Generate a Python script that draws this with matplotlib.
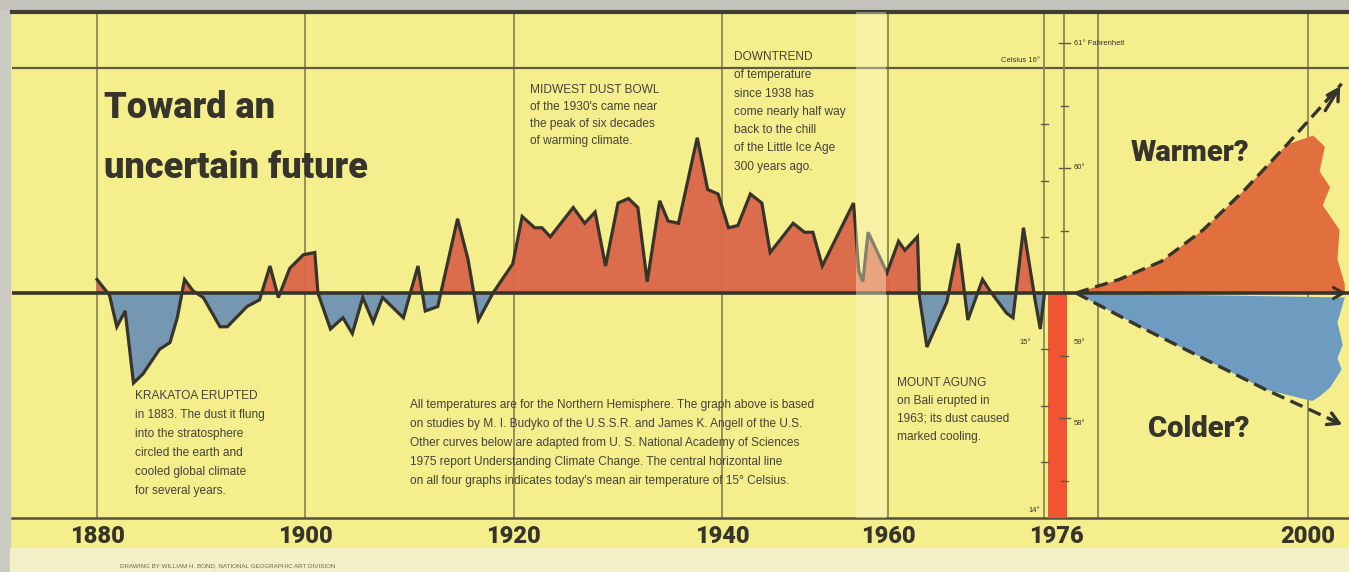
import numpy as np
import matplotlib.pyplot as plt
from matplotlib.patches import Rectangle

# Northern hemisphere temperature, departure (deg C) from today's 15 C mean
years = [1880.0, 1881.2, 1881.9, 1882.7, 1883.5, 1884.4, 1886.0, 1887.0, 1887.7, 1888.4,
         1889.2, 1890.2, 1891.8, 1892.5, 1894.4, 1895.6, 1896.6, 1897.4, 1898.5, 1899.8,
         1900.9, 1901.2, 1902.4, 1903.6, 1904.5, 1905.5, 1906.5, 1907.4, 1909.4, 1910.8,
         1911.5, 1912.7, 1914.6, 1915.6, 1916.6, 1918.0, 1919.9, 1920.8, 1922.0, 1922.7,
         1923.5, 1925.7, 1926.8, 1927.8, 1928.8, 1930.0, 1931.0, 1931.9, 1932.8, 1934.0,
         1934.8, 1935.8, 1937.6, 1938.6, 1939.6, 1940.6, 1941.5, 1942.7, 1943.8, 1944.6,
         1946.8, 1947.9, 1948.7, 1949.6, 1952.6, 1953.1, 1957.6, 1958.1, 1959.9, 1961.0,
         1961.6, 1962.8, 1963.0, 1963.7, 1965.6, 1966.7, 1967.6, 1969.0, 1969.7, 1971.3,
         1971.9, 1972.9, 1974.0, 1974.5, 1974.9]
temps = [0.06, -0.01, -0.15, -0.08, -0.40, -0.36, -0.25, -0.22, -0.11, 0.06,
         0.01, -0.02, -0.15, -0.15, -0.06, -0.03, 0.12, -0.02, 0.11, 0.17,
         0.18, 0.00, -0.16, -0.11, -0.18, -0.02, -0.13, -0.02, -0.11, 0.12,
         -0.08, -0.06, 0.33, 0.15, -0.12, 0.00, 0.13, 0.34, 0.29, 0.29,
         0.25, 0.38, 0.31, 0.36, 0.12, 0.40, 0.42, 0.38, 0.05, 0.41,
         0.32, 0.31, 0.69, 0.46, 0.44, 0.29, 0.30, 0.44, 0.40, 0.18,
         0.31, 0.27, 0.27, 0.12, 0.40, 0.10, 0.05, 0.27, 0.09, 0.23,
         0.19, 0.25, -0.02, -0.24, -0.04, 0.22, -0.12, 0.06, 0.01, -0.09,
         -0.11, 0.29, -0.03, -0.16, 0.00]

# the two possible futures
warm_years = [1977.9, 1982, 1986, 1990, 1994, 1998, 2003.2]
warm_vals = [0.0, 0.06, 0.14, 0.28, 0.46, 0.66, 0.93]
cold_years = [1977.9, 1984, 1990, 1996, 2003.5]
cold_vals = [0.0, -0.15, -0.29, -0.43, -0.59]

# ragged right edge of the shaded futures
warm_edge_years = [2000.5, 2001.6, 2001.1, 2002.1, 2001.4, 2003.0, 2002.8, 2003.5, 2003.5]
warm_edge_vals = [0.70, 0.65, 0.54, 0.47, 0.39, 0.28, 0.15, 0.04, 0.0]
cold_edge_years = [2003.5, 2002.8, 2003.3, 2002.8, 2003.2, 2002.1, 2001.1, 2000.4]
cold_edge_vals = [-0.02, -0.13, -0.23, -0.29, -0.34, -0.42, -0.46, -0.48]

# present day thermometer bar (1976, down to 14 C)
bar_year = 1976.1
bar_depth = -1.0

grid_years = [1880, 1900, 1920, 1940, 1960, 1980, 2000]
tick_years = [1880, 1900, 1920, 1940, 1960, 1976, 2000]
tick_labels = ['1880', '1900', '1920', '1940', '1960', '1976', '2000']

BG = '#F4EE8C'
RED = '#DB6649'
BLUE = '#6F93B4'
WARM = '#E2703F'
COLD = '#6E9BC0'
BAR = '#EF5433'
INK = '#37352B'
GRID = '#8C8A55'
HEAVY = ['Roboto', 'DejaVu Sans']
SMALL = ['Liberation Sans', 'DejaVu Sans']

# the page gutter swallows a few years around 1955
YEAR_NODES = [1860, 1953.1, 1957.5, 2020]
PX_NODES = [-111.4, 858.7, 861.75, 1518.0]


def fwd(x):
    return np.interp(x, YEAR_NODES, PX_NODES)


def inv(p):
    return np.interp(p, PX_NODES, YEAR_NODES)


fig = plt.figure(figsize=(13.49, 5.72), dpi=100, facecolor=BG)
W, H = 1349, 572


def fx(x):
    return x / W


def fy(y):
    return 1 - y / H


fig.add_artist(Rectangle((0, 0), fx(10), 1, transform=fig.transFigure, color='#CBCBC3', zorder=0))
fig.add_artist(Rectangle((0, fy(9)), 1, 9 / H, transform=fig.transFigure, color='#C4C4BC', zorder=0))
fig.add_artist(Rectangle((fx(10), 0), 1, 24 / H, transform=fig.transFigure, color='#F3F0C8', zorder=0))

ax = fig.add_axes([fx(12), fy(518), fx(1337), 506 / H])
ax.set_facecolor(BG)
ax.set_xscale('function', functions=(fwd, inv))
ax.set_xlim(1871.84, 2003.9)
ax.set_ylim(-1.0, 1.249)

for s in ['left', 'right']:
    ax.spines[s].set_visible(False)
ax.spines['top'].set_color('#3E3D36')
ax.spines['top'].set_linewidth(3)
ax.spines['bottom'].set_color('#55533F')
ax.spines['bottom'].set_linewidth(1.8)

for g in grid_years:
    ax.axvline(g, color=GRID, lw=1.3, zorder=1)
ax.axhline(1.0, color='#5E5C45', lw=1.6, zorder=1)

# thermometer scales: Celsius and Fahrenheit
c_line, f_line = 1974.9, 1976.8
ax.axvline(c_line, color=GRID, lw=1.3, zorder=1)
ax.axvline(f_line, color=GRID, lw=1.3, zorder=1)
for c in [0.75, 0.5, 0.25, -0.25, -0.5, -0.75]:
    ax.plot([c_line - 0.35, c_line + 0.35], [c, c], color='#5E5C45', lw=1, zorder=6)
for f in [61, 60.5, 60, 59.5, 58.5, 58, 57.5]:
    v = (f - 59) * 5 / 9
    half = 0.5 if f % 1 == 0 else 0.3
    ax.plot([f_line - half, f_line + half], [v, v], color='#5E5C45', lw=1, zorder=6)

ax.bar(bar_year, bar_depth, width=1.8, bottom=0, color=BAR, zorder=4)

ax.fill_between(years, temps, 0, where=np.array(temps) >= 0, interpolate=True,
                color=RED, lw=0, zorder=2, alpha=0.95)
ax.fill_between(years, temps, 0, where=np.array(temps) <= 0, interpolate=True,
                color=BLUE, lw=0, zorder=2, alpha=0.95)
ax.plot(years, temps, color=INK, lw=2.3, zorder=5, solid_joinstyle='miter')

ax.fill(warm_years[:-1] + warm_edge_years, warm_vals[:-1] + warm_edge_vals,
        color=WARM, lw=0, zorder=2)
ax.fill([warm_years[0]] + cold_edge_years + cold_years[-2::-1],
        [0.0] + cold_edge_vals + cold_vals[-2::-1], color=COLD, lw=0, zorder=2)

# page gutter
ax.axvspan(1952.85, 1959.8, color='#FAF8CC', alpha=0.4, lw=0, zorder=6)

ax.axhline(0, color=INK, lw=2.6, zorder=5)
ax.annotate('', xy=(2003.9, 0), xytext=(2002.0, 0),
            arrowprops=dict(arrowstyle='->,head_length=0.7,head_width=0.4', lw=2.2, color=INK),
            zorder=7, annotation_clip=False)

ax.plot(warm_years, warm_vals, color=INK, lw=2.4, ls=(0, (4, 2)), zorder=6)
ax.plot(cold_years, cold_vals, color=INK, lw=2.4, ls=(0, (4, 2)), zorder=6)
ax.annotate('', xy=(warm_years[-1], warm_vals[-1]), xytext=(2001.5, 0.80),
            arrowprops=dict(arrowstyle='->,head_length=0.8,head_width=0.45', lw=2.4, color=INK),
            zorder=7)
ax.annotate('', xy=(cold_years[-1], cold_vals[-1]), xytext=(2001.8, -0.555),
            arrowprops=dict(arrowstyle='->,head_length=0.8,head_width=0.45', lw=2.4, color=INK),
            zorder=7)

ax.set_xticks(tick_years)
ax.set_xticklabels(tick_labels, family=HEAVY, fontweight='black', fontsize=17, color=INK)
ax.tick_params(axis='x', length=0, pad=5)
ax.set_yticks([])

# scale labels
small = dict(family=SMALL, fontsize=5.5, color=INK, zorder=8)
ax.text(c_line - 0.4, 1.02, 'Celsius 16°', ha='right', va='bottom', **small)
ax.text(f_line + 0.9, 1.111, '61° Fahrenheit', ha='left', va='center', **small)
ax.text(f_line + 0.9, 0.556, '60°', ha='left', va='center', **small)
ax.text(f_line + 0.9, -0.22, '59°', ha='left', va='center', **small)
ax.text(f_line + 0.9, -0.58, '58°', ha='left', va='center', **small)
ax.text(c_line - 1.3, -0.22, '15°', ha='right', va='center', **small)
ax.text(c_line - 0.4, -0.98, '14°', ha='right', va='bottom', **small)

big = dict(family=HEAVY, fontweight='black', color=INK)
fig.text(fx(104), fy(118), 'Toward an', fontsize=26, va='baseline', **big)
fig.text(fx(104), fy(178), 'uncertain future', fontsize=26, va='baseline', **big)
fig.text(fx(1190), fy(161), 'Warmer?', fontsize=21, ha='center', va='baseline', **big)
fig.text(fx(1199), fy(437), 'Colder?', fontsize=21, ha='center', va='baseline', **big)

note = dict(family=SMALL, fontsize=8.6, color='#45433A', va='top', ha='left', linespacing=1.55)
fig.text(fx(530), fy(84), 'MIDWEST DUST BOWL\nof the 1930\'s came near\nthe peak of six decades\n'
         'of warming climate.', **note)
fig.text(fx(734), fy(51), 'DOWNTREND\nof temperature\nsince 1938 has\ncome nearly half way\n'
         'back to the chill\nof the Little Ice Age\n300 years ago.', **dict(note, linespacing=1.7))
fig.text(fx(135), fy(390), 'KRAKATOA ERUPTED\nin 1883. The dust it flung\ninto the stratosphere\n'
         'circled the earth and\ncooled global climate\nfor several years.', **dict(note, linespacing=1.78))
fig.text(fx(897), fy(377), 'MOUNT AGUNG\non Bali erupted in\n1963; its dust caused\nmarked cooling.',
         **dict(note, linespacing=1.65))
fig.text(fx(410), fy(399),
         'All temperatures are for the Northern Hemisphere. The graph above is based\n'
         'on studies by M. I. Budyko of the U.S.S.R. and James K. Angell of the U.S.\n'
         'Other curves below are adapted from U. S. National Academy of Sciences\n'
         '1975 report Understanding Climate Change. The central horizontal line\n'
         'on all four graphs indicates today\'s mean air temperature of 15° Celsius.',
         **dict(note, linespacing=1.78))
fig.text(fx(120), fy(566), 'DRAWING BY WILLIAM H. BOND, NATIONAL GEOGRAPHIC ART DIVISION',
         family=SMALL, fontsize=4.5, color='#6A685A', va='center')

fig.savefig('out.png', dpi=100, facecolor=BG)
